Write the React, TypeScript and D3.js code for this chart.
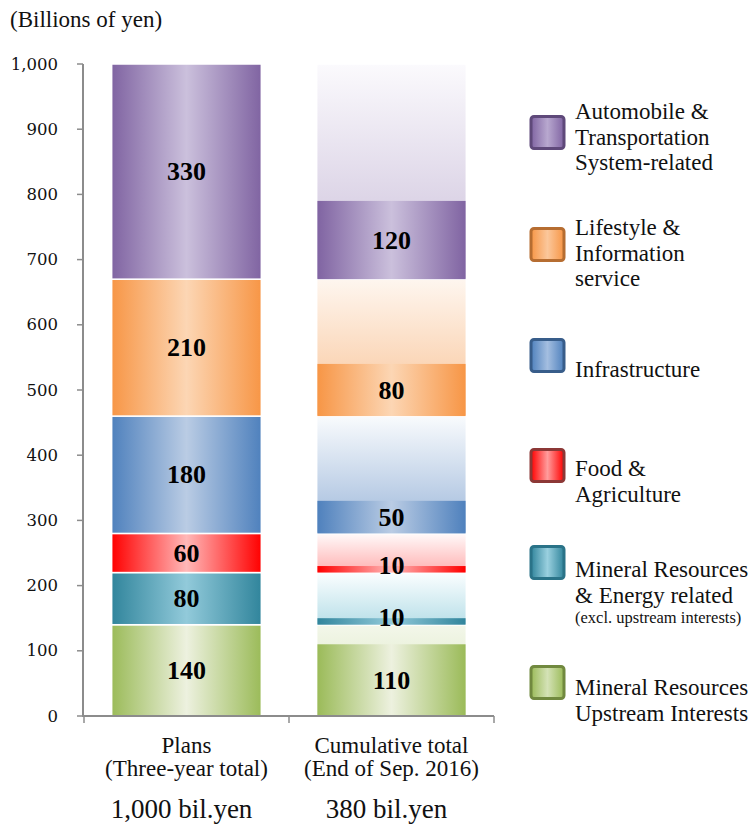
import React from "react";
import * as d3 from "d3";

// ---------- data ----------
const categoryNames = ["Plans", "Cumulative total"];
const categorySubs = ["(Three-year total)", "(End of Sep. 2016)"];
const categoryTotals = ["1,000 bil.yen", "380 bil.yen"];

const segmentKeys = ["upstream", "mineral", "food", "infra", "lifestyle", "auto"];
const planValues = [140, 80, 60, 180, 210, 330];
const actualValues = [110, 10, 10, 50, 80, 120];

const legendOrder = ["auto", "lifestyle", "infra", "food", "mineral", "upstream"];
const legendLines: Record<string, string[]> = {
  auto: ["Automobile &", "Transportation", "System-related"],
  lifestyle: ["Lifestyle &", "Information", "service"],
  infra: ["Infrastructure"],
  food: ["Food &", "Agriculture"],
  mineral: ["Mineral Resources", "& Energy related"],
  upstream: ["Mineral Resources", "Upstream Interests"],
};
const legendNote: Record<string, string> = { mineral: "(excl. upstream interests)" };

const yDomainMax = 1000;
const yUnit = "(Billions of yen)";

// ---------- styles ----------
const palette: Record<string, { edge: string; mid: string; fadeTop: string; fadeBottom: string; border: string; swMid: string }> = {
  auto: { edge: "#8064A2", mid: "#CBC0DC", fadeTop: "#FBFAFD", fadeBottom: "#CBBFDA", border: "#5F497A", swMid: "#B8A8CF" },
  lifestyle: { edge: "#F79646", mid: "#FCD6B4", fadeTop: "#FEF6EF", fadeBottom: "#F9C396", border: "#B66D31", swMid: "#FBC79B" },
  infra: { edge: "#4F81BD", mid: "#BACCE4", fadeTop: "#F9FBFD", fadeBottom: "#9CB7DA", border: "#385D8A", swMid: "#A4BEE0" },
  food: { edge: "#FF0000", mid: "#FFB8B8", fadeTop: "#FFFAFA", fadeBottom: "#FFB0B0", border: "#8C3836", swMid: "#FF9C9C" },
  mineral: { edge: "#31859C", mid: "#92CADA", fadeTop: "#FBFEFF", fadeBottom: "#B8DFE8", border: "#2A7388", swMid: "#9AD0DF" },
  upstream: { edge: "#9BBB59", mid: "#EDF1DF", fadeTop: "#F3F7EA", fadeBottom: "#D5E3BA", border: "#71893F", swMid: "#D4E2B6" },
};

// legend layout (swatch top, first text baseline)
const legendLayout: Record<string, { sy: number; ty: number }> = {
  auto: { sy: 115, ty: 119 },
  lifestyle: { sy: 227, ty: 235 },
  infra: { sy: 338, ty: 377 },
  food: { sy: 448, ty: 476 },
  mineral: { sy: 545, ty: 577 },
  upstream: { sy: 665, ty: 695 },
};

const FONT = "'Liberation Serif', 'Times New Roman', serif";
const TICK_FONT = "'DejaVu Serif', serif";
const W = 753;
const H = 831;
const axisColor = "#8C8C8C";

export default function App() {
  const x = d3
    .scaleBand<string>()
    .domain(categoryNames)
    .range([84, 494])
    .paddingInner(0.27)
    .paddingOuter(0.135);
  const y = d3.scaleLinear().domain([0, yDomainMax]).range([716, 64]);
  const ticks = y.ticks(10);
  const fmt = d3.format(",");

  const cum = Array.from(d3.cumsum(planValues));
  const planStack: [number, number][] = cum.map((v, i) => [v - planValues[i], v]);
  const bw = x.bandwidth();
  const x0 = x(categoryNames[0])!;
  const x1 = x(categoryNames[1])!;

  return (
    <svg width={W} height={H} style={{ position: "absolute", left: 0, top: 0, background: "#fff" }}>
      <defs>
        {segmentKeys.map((k) => (
          <React.Fragment key={k}>
            <linearGradient id={`h-${k}`} x1="0" x2="1" y1="0" y2="0">
              <stop offset="0%" stopColor={palette[k].edge} />
              <stop offset="50%" stopColor={palette[k].mid} />
              <stop offset="100%" stopColor={palette[k].edge} />
            </linearGradient>
            <linearGradient id={`v-${k}`} x1="0" x2="0" y1="0" y2="1">
              <stop offset="0%" stopColor={palette[k].fadeTop} />
              <stop offset="100%" stopColor={palette[k].fadeBottom} />
            </linearGradient>
            <linearGradient id={`s-${k}`} x1="0" x2="1" y1="0" y2="0">
              <stop offset="0%" stopColor={palette[k].edge} />
              <stop offset="50%" stopColor={palette[k].swMid} />
              <stop offset="100%" stopColor={palette[k].edge} />
            </linearGradient>
          </React.Fragment>
        ))}
      </defs>

      <text x={10} y={27} fontFamily={FONT} fontSize={23} fill="#111">
        {yUnit}
      </text>

      {/* y axis */}
      <line x1={83} x2={83} y1={y(yDomainMax)} y2={y(0)} stroke={axisColor} strokeWidth={2} />
      {ticks.map((t) => (
        <g key={t}>
          <line x1={77} x2={83} y1={y(t)} y2={y(t)} stroke={axisColor} strokeWidth={1.5} />
          <text
            x={58}
            y={y(t)}
            textAnchor="end"
            dominantBaseline="central"
            fontFamily={TICK_FONT}
            fontSize={16.5}
            fill="#111"
          >
            {fmt(t)}
          </text>
        </g>
      ))}

      {/* plans bar */}
      {segmentKeys.map((k, i) => (
        <rect
          key={`p-${k}`}
          x={x0}
          width={bw}
          y={y(planStack[i][1])}
          height={y(planStack[i][0]) - y(planStack[i][1])}
          fill={`url(#h-${k})`}
          stroke="#fff"
          strokeWidth={1.5}
        />
      ))}

      {/* cumulative bar */}
      {segmentKeys.map((k, i) => (
        <g key={`c-${k}`}>
          <rect
            x={x1}
            width={bw}
            y={y(planStack[i][1])}
            height={y(planStack[i][0]) - y(planStack[i][1])}
            fill={`url(#v-${k})`}
            stroke="#fff"
            strokeWidth={1.5}
          />
          <rect
            x={x1 + 0.75}
            width={bw - 1.5}
            y={y(planStack[i][0] + actualValues[i])}
            height={y(planStack[i][0]) - y(planStack[i][0] + actualValues[i])}
            fill={`url(#h-${k})`}
          />
        </g>
      ))}

      {/* value labels */}
      {segmentKeys.map((k, i) => (
        <g key={`l-${k}`} fontFamily={FONT} fontWeight="bold" fontSize={26} fill="#000" textAnchor="middle">
          <text x={x0 + bw / 2} y={y((planStack[i][0] + planStack[i][1]) / 2)} dominantBaseline="central">
            {planValues[i]}
          </text>
          <text
            x={x1 + bw / 2}
            y={Math.min(y(planStack[i][0] + actualValues[i] / 2), y(planStack[i][0]) - 7)}
            dominantBaseline="central"
          >
            {actualValues[i]}
          </text>
        </g>
      ))}

      {/* x axis */}
      <line x1={82} x2={494} y1={y(0)} y2={y(0)} stroke={axisColor} strokeWidth={2} />
      {[84, 84 + x.step(), 84 + 2 * x.step()].map((tx, i) => (
        <line key={i} x1={tx} x2={tx} y1={y(0)} y2={y(0) + 7} stroke={axisColor} strokeWidth={1.5} />
      ))}
      {categoryNames.map((c, i) => {
        const cx = x(c)! + bw / 2;
        return (
          <g key={c} fontFamily={FONT} fill="#111" textAnchor="middle">
            <text x={cx} y={753} fontSize={23}>
              {c}
            </text>
            <text x={cx} y={776} fontSize={23}>
              {categorySubs[i]}
            </text>
            <text x={cx - 5} y={818} fontSize={27}>
              {categoryTotals[i]}
            </text>
          </g>
        );
      })}

      {/* legend */}
      {legendOrder.map((k) => {
        const L = legendLayout[k];
        return (
          <g key={`lg-${k}`}>
            <rect
              x={531}
              y={L.sy + 1.5}
              width={33}
              height={32}
              rx={3}
              fill={`url(#s-${k})`}
              stroke={palette[k].border}
              strokeWidth={3}
            />
            {legendLines[k].map((ln, j) => (
              <text key={j} x={575} y={L.ty + j * 25.5} fontFamily={FONT} fontSize={23} fill="#111">
                {ln}
              </text>
            ))}
            {legendNote[k] && (
              <text
                x={575}
                y={L.ty + legendLines[k].length * 25.5 - 5}
                fontFamily={FONT}
                fontSize={16.5}
                fill="#111"
              >
                {legendNote[k]}
              </text>
            )}
          </g>
        );
      })}
    </svg>
  );
}
